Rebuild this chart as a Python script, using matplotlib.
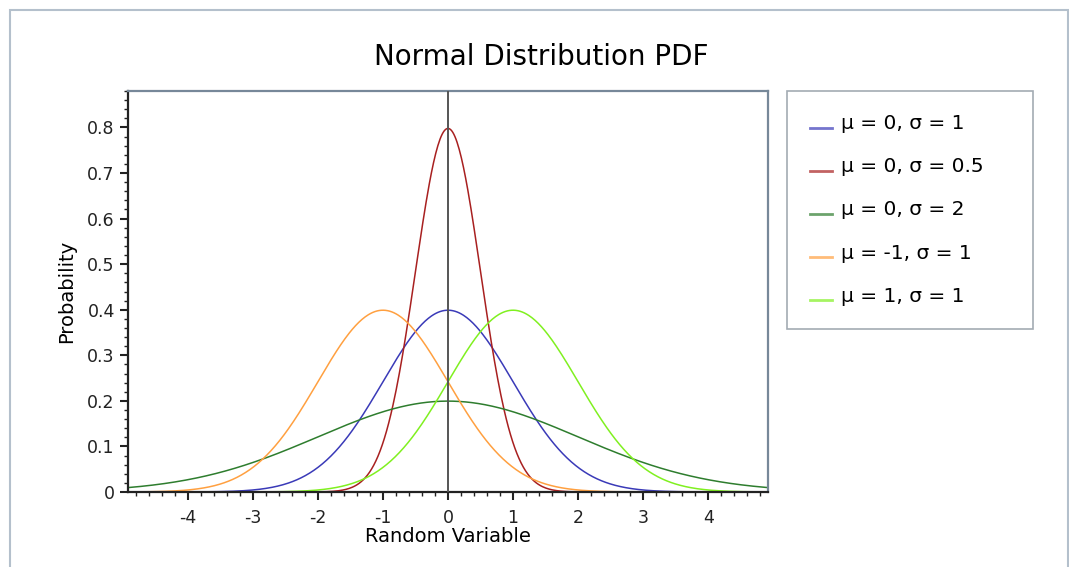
import numpy as np
import matplotlib
matplotlib.use("Agg")
from matplotlib import pyplot as plt
from matplotlib.patches import Rectangle
from matplotlib.ticker import MultipleLocator

# curve parameters
mus = [0, 0, 0, -1, 1]
sigmas = [1, 0.5, 2, 1, 1]
labels = ["μ = 0, σ = 1", "μ = 0, σ = 0.5", "μ = 0, σ = 2", "μ = -1, σ = 1", "μ = 1, σ = 1"]
colors = ["#3a3ab8", "#a82020", "#2e7d2e", "#ffa040", "#80f020"]
x_ticks = [-4, -3, -2, -1, 0, 1, 2, 3, 4]
y_ticks = [0, 0.1, 0.2, 0.3, 0.4, 0.5, 0.6, 0.7, 0.8]

plt.rcParams['font.family'] = ['DejaVu Sans']

fig = plt.figure(figsize=(10.69, 5.67), dpi=100)
W, H = 1069, 567
ax = fig.add_axes([128 / W, 1 - 492 / H, (768 - 128) / W, (492 - 91) / H])

x = np.linspace(-4.92, 4.92, 600)
for mu, s, lab, c in zip(mus, sigmas, labels, colors):
    y = np.exp(-0.5 * ((x - mu) / s) ** 2) / (s * np.sqrt(2 * np.pi))
    ax.plot(x, y, color=c, lw=1.1, label=lab)

ax.axvline(0, color="#555555", lw=1.4, zorder=5)

ax.set_xlim(-4.92, 4.92)
ax.set_ylim(0, 0.88)
ax.set_xticks(x_ticks)
ax.set_xticklabels([str(v) for v in x_ticks])
ax.set_yticks(y_ticks)
ax.set_yticklabels(["0"] + ["%.1f" % v for v in y_ticks[1:]])
ax.xaxis.set_minor_locator(MultipleLocator(0.2))
ax.yaxis.set_minor_locator(MultipleLocator(0.02))
ax.tick_params(which="major", direction="out", length=6, width=1.5, labelsize=12.5, colors="#222222")
ax.tick_params(which="minor", direction="out", length=3, width=1, colors="#222222")
ax.tick_params(axis="x", pad=6)

for side in ["left", "bottom"]:
    ax.spines[side].set_color("#222222")
    ax.spines[side].set_linewidth(1.6)
for side in ["top", "right"]:
    ax.spines[side].set_color("#778899")
    ax.spines[side].set_linewidth(1.6)

ax.set_xlabel("Random Variable", fontsize=14, labelpad=0)
ax.set_ylabel("Probability", fontsize=14, labelpad=8)

fig.text(541 / W, 1 - 57 / H, "Normal Distribution PDF", fontsize=20, ha="center", va="center")

leg = ax.legend(loc="upper left", bbox_to_anchor=(787 / W, 1 - 326 / H, 246 / W, 235 / H),
                bbox_transform=fig.transFigure, mode="expand", fontsize=14.5, frameon=True,
                fancybox=False, edgecolor="#8c96a0", labelspacing=1.2,
                handlelength=1.1, handletextpad=0.45, borderpad=1.15, borderaxespad=0)
leg.get_frame().set_linewidth(1.2)
for h in leg.get_lines():
    h.set_alpha(0.7)
    h.set_linewidth(2)
    yd = np.asarray(h.get_ydata(), dtype=float)
    h.set_ydata(yd - 4)

# outer border
fig.patches.append(Rectangle((10 / W, -0.1), (1068 - 10) / W, 1.1 - 10 / H,
                             transform=fig.transFigure, fill=False,
                             edgecolor="#b4c0cc", lw=1.5))

fig.savefig("out.png", dpi=100)
